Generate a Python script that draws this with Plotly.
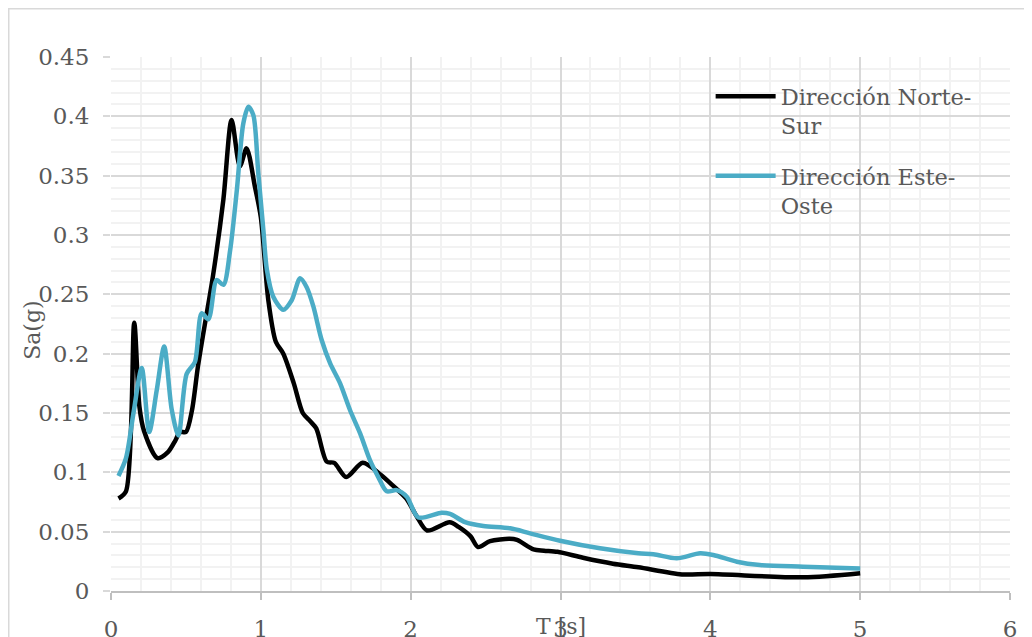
import plotly.graph_objects as go

# Spectra
t_ns = [0.05, 0.10, 0.155, 0.19, 0.22, 0.31, 0.38, 0.43, 0.46, 0.50, 0.54, 0.58, 0.62,
        0.68, 0.75, 0.805, 0.86, 0.905, 0.96, 1.0, 1.05, 1.10, 1.15, 1.22, 1.28, 1.33,
        1.37, 1.44, 1.49, 1.57, 1.68, 1.80, 1.88, 1.97, 2.04, 2.11, 2.26, 2.32, 2.40,
        2.45, 2.53, 2.66, 2.71, 2.82, 2.89, 2.98, 3.15, 3.35, 3.52, 3.81, 4.0, 4.62, 5.0]
sa_ns = [0.078, 0.084, 0.226, 0.155, 0.135, 0.112, 0.117, 0.127, 0.134, 0.134, 0.152,
         0.189, 0.220, 0.265, 0.330, 0.397, 0.358, 0.373, 0.341, 0.315, 0.245, 0.210,
         0.200, 0.175, 0.150, 0.143, 0.137, 0.109, 0.108, 0.096, 0.108, 0.098, 0.089,
         0.078, 0.063, 0.051, 0.058, 0.054, 0.046, 0.037, 0.042, 0.044, 0.043, 0.035,
         0.034, 0.033, 0.028, 0.023, 0.020, 0.014, 0.0143, 0.0115, 0.015]

t_eo = [0.05, 0.10, 0.15, 0.205, 0.255, 0.305, 0.355, 0.405, 0.45, 0.505, 0.56, 0.605,
        0.65, 0.705, 0.75, 0.795, 0.84, 0.883, 0.917, 0.95, 0.983, 1.017, 1.04, 1.083,
        1.15, 1.206, 1.262, 1.306, 1.35, 1.406, 1.462, 1.529, 1.595, 1.662, 1.729,
        1.784, 1.84, 1.907, 1.974, 2.051, 2.207, 2.263, 2.363, 2.485, 2.664, 2.797,
        2.997, 3.264, 3.52, 3.62, 3.776, 3.932, 4.02, 4.177, 4.33, 4.62, 5.0]
sa_eo = [0.097, 0.112, 0.150, 0.188, 0.134, 0.169, 0.206, 0.153, 0.131, 0.183, 0.193,
         0.234, 0.229, 0.262, 0.258, 0.287, 0.338, 0.394, 0.408, 0.401, 0.352, 0.304,
         0.271, 0.248, 0.237, 0.245, 0.2635, 0.256, 0.240, 0.2115, 0.192, 0.175,
         0.1525, 0.133, 0.110, 0.096, 0.084, 0.085, 0.0795, 0.062, 0.066, 0.065,
         0.058, 0.0548, 0.0528, 0.0486, 0.0424, 0.036, 0.0318, 0.031, 0.0275, 0.0318,
         0.0303, 0.0247, 0.0219, 0.0205, 0.019]

names = ["Dirección Norte-<br>Sur", "Dirección Este-<br>Oste"]

FONT = "DejaVu Serif"
GRAY = "#595959"

# page body keeps its 8px margin, so the figure is sized to the remaining area
W, H = 1024, 629
ML, MT, MR, MB = 103, 49, 22, 46
PW, PH = W - ML - MR, H - MT - MB

fig = go.Figure()

fig.add_trace(go.Scatter(
    x=t_ns, y=sa_ns, mode="lines", name=names[0], legendgroup="ns",
    line=dict(color="#000000", width=4.5, shape="spline", smoothing=0.8)
))
fig.add_trace(go.Scatter(
    x=t_eo, y=sa_eo, mode="lines", name=names[1], legendgroup="eo",
    line=dict(color="#4BACC6", width=4.5, shape="spline", smoothing=0.8)
))

fig.update_xaxes(
    range=[0, 6], dtick=1, showgrid=True, gridcolor="#d9d9d9", gridwidth=2,
    zeroline=False, showline=True, linecolor="#bfbfbf", linewidth=2,
    ticks="outside", ticklen=7, tickcolor="#bfbfbf", tickwidth=2,
    ticklabelstandoff=9, automargin=False,
    tickfont=dict(family=FONT, size=23, color=GRAY),
    minor=dict(dtick=0.2, showgrid=True, gridcolor="#f2f2f2", gridwidth=2)
)
fig.update_yaxes(
    range=[0, 0.45], dtick=0.05, showgrid=True, gridcolor="#d9d9d9", gridwidth=2,
    zeroline=False, showline=False, automargin=False,
    ticks="outside", ticklen=7, tickcolor="#d9d9d9", tickwidth=2,
    ticklabelstandoff=9,
    tickfont=dict(family=FONT, size=23, color=GRAY),
    minor=dict(dtick=0.01, showgrid=True, gridcolor="#f2f2f2", gridwidth=2)
)

fig.update_layout(
    width=W, height=H,
    paper_bgcolor="white", plot_bgcolor="white",
    margin=dict(l=ML, r=MR, t=MT, b=MB, autoexpand=False),
    font=dict(family=FONT, color=GRAY),
    legend=dict(
        x=0.667, y=0.966, xanchor="left", yanchor="top",
        font=dict(family=FONT, size=22.5, color=GRAY),
        itemwidth=60, valign="top", tracegroupgap=18,
        bgcolor="rgba(0,0,0,0)"
    ),
    annotations=[
        dict(text="Sa(g)", xref="paper", yref="paper", x=-0.0868, y=0.489,
             textangle=-90, showarrow=False, xanchor="center", yanchor="middle",
             font=dict(family=FONT, size=22, color=GRAY)),
        dict(text="T [s]", xref="x", yref="paper", x=3, y=-0.0674,
             showarrow=False, xanchor="center", yanchor="middle",
             font=dict(family=FONT, size=22, color=GRAY)),
    ],
    shapes=[
        dict(type="rect", xref="paper", yref="paper",
             x0=-(ML - 0.5) / PW, y0=-0.3, x1=1.2, y1=1 + (MT - 0.5) / PH,
             line=dict(color="#d9d9d9", width=2), layer="below"),
    ],
)

fig.write_html("out.html")
